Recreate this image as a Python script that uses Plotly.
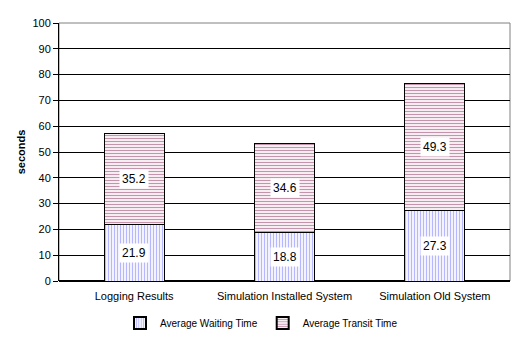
import plotly.graph_objects as go

categories = ["Logging Results", "Simulation Installed System", "Simulation Old System"]
waiting = [21.9, 18.8, 27.3]
transit = [35.2, 34.6, 49.3]
y_ticks = [0, 10, 20, 30, 40, 50, 60, 70, 80, 90, 100]

fig = go.Figure()
fig.add_trace(go.Bar(
    name="Average Waiting Time", x=categories, y=waiting,
    marker=dict(color="white", line=dict(color="black", width=1),
                pattern=dict(shape="|", fgcolor="#6f6fff", bgcolor="white", size=3, solidity=0.45)),
    width=0.4,
))
fig.add_trace(go.Bar(
    name="Average Transit Time", x=categories, y=transit,
    marker=dict(color="white", line=dict(color="black", width=1),
                pattern=dict(shape="-", fgcolor="#8a2a5a", bgcolor="white", size=3, solidity=0.45)),
    width=0.4,
))

for c, w, t in zip(categories, waiting, transit):
    fig.add_annotation(x=c, y=w / 2, text=f"{w}", showarrow=False, bgcolor="white",
                       font=dict(family="Arial", size=12, color="black"), borderpad=2)
    fig.add_annotation(x=c, y=w + t / 2, text=f"{t}", showarrow=False, bgcolor="white",
                       font=dict(family="Arial", size=12, color="black"), borderpad=2)

fig.update_layout(
    barmode="stack",
    width=523, height=340,
    margin=dict(l=59, r=13, t=23, b=59, autoexpand=False),
    paper_bgcolor="white", plot_bgcolor="white",
    font=dict(family="Arial", size=11, color="black"),
    showlegend=True,
    legend=dict(orientation="h", x=0.5, xanchor="center", xref="container",
                y=0.05, yanchor="middle", yref="container", traceorder="normal",
                font=dict(family="Arial", size=10), itemwidth=30, itemsizing="constant"),
    xaxis=dict(showline=False, ticks="", tickfont=dict(size=11), ticklabelstandoff=7),
    yaxis=dict(range=[0, 100], tickvals=y_ticks, showgrid=True, gridcolor="black", gridwidth=1,
               showline=True, linecolor="black", ticks="outside", ticklen=5, tickcolor="black",
               zeroline=True, zerolinecolor="black",
               title=dict(text="<b>seconds</b>", font=dict(size=11), standoff=4)),
)
fig.add_shape(type="rect", xref="paper", yref="paper", x0=0, x1=1, y0=0, y1=1,
              line=dict(color="#808080", width=1), layer="below")

fig.write_html("out.html")
